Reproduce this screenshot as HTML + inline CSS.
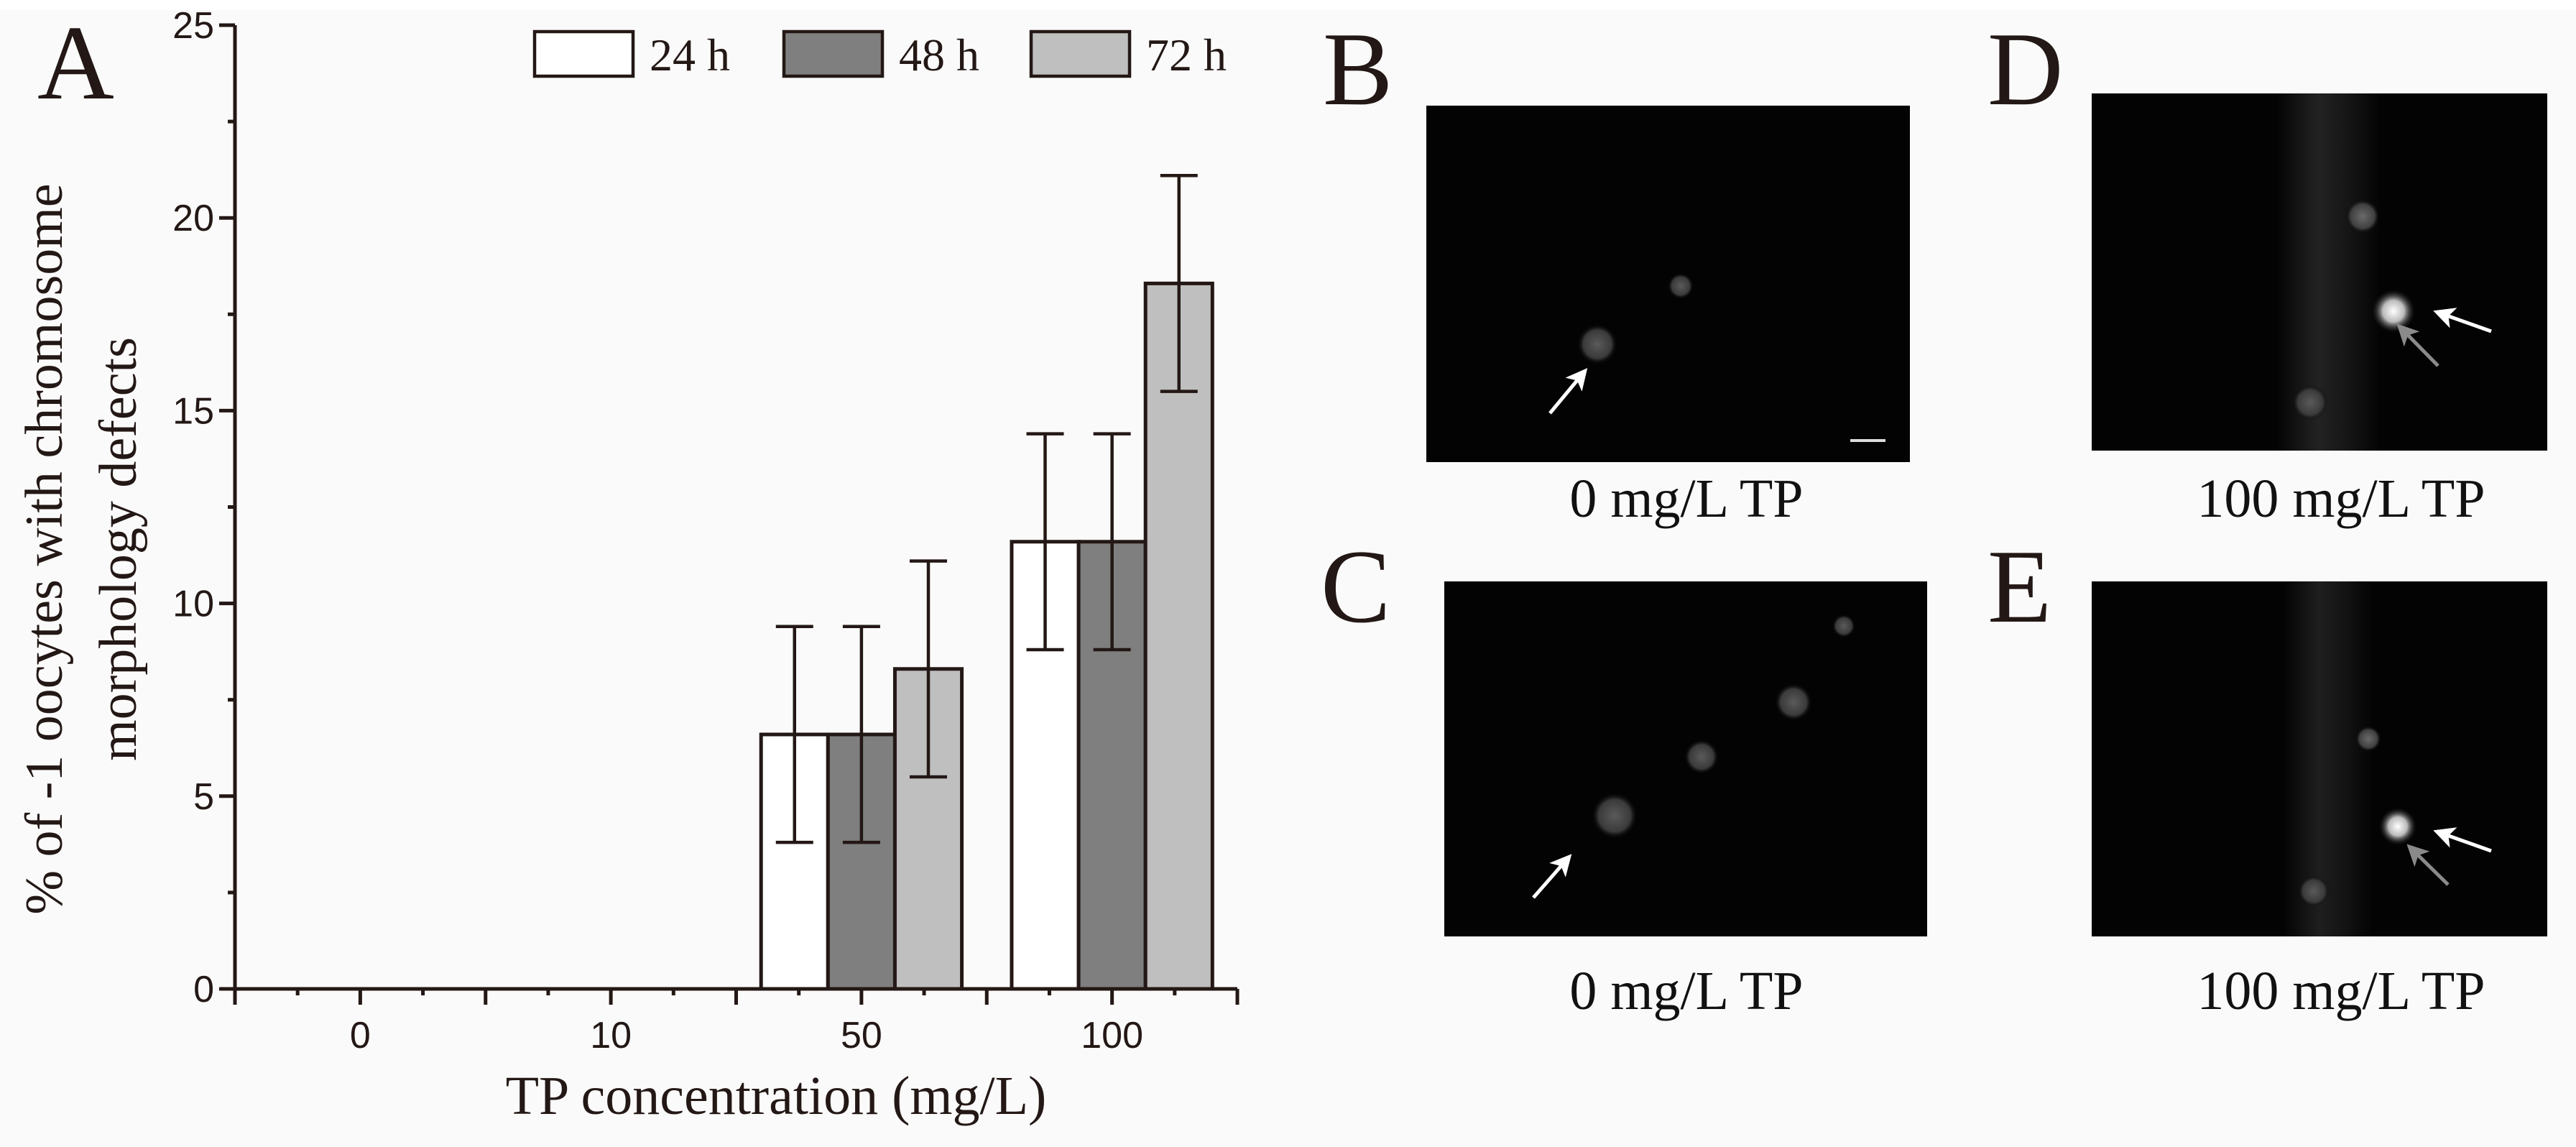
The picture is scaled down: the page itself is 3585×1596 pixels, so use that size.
<!DOCTYPE html>
<html><head><meta charset="utf-8">
<style>
html,body{margin:0;padding:0;background:#fafafa;}
#root{position:relative;width:3585px;height:1596px;background:#fafafa;overflow:hidden;}
svg{position:absolute;left:0;top:0;}
</style></head>
<body>
<div id="root">
<svg id="fig" width="3585" height="1596" viewBox="0 0 3585 1596">
<defs>
<radialGradient id="blobDim"><stop offset="0" stop-color="#5a5a5a"/><stop offset="0.7" stop-color="#3a3a3a"/><stop offset="1" stop-color="#050505" stop-opacity="0"/></radialGradient>
<radialGradient id="blobMid"><stop offset="0" stop-color="#6a6a6a"/><stop offset="0.7" stop-color="#404040"/><stop offset="1" stop-color="#050505" stop-opacity="0"/></radialGradient>
<radialGradient id="blobBright"><stop offset="0" stop-color="#ffffff"/><stop offset="0.5" stop-color="#bbbbbb"/><stop offset="1" stop-color="#222" stop-opacity="0"/></radialGradient>
<linearGradient id="streak" x1="0" x2="1"><stop offset="0" stop-color="#050505"/><stop offset="0.4" stop-color="#2a2a2a"/><stop offset="0.7" stop-color="#1a1a1a"/><stop offset="1" stop-color="#050505"/></linearGradient>
<marker id="ahW" markerWidth="6" markerHeight="6" refX="5" refY="3" orient="auto" markerUnits="strokeWidth"><path d="M0,0 L6,3 L0,6 L1.5,3 z" fill="#fff"/></marker>
<marker id="ahG" markerWidth="6" markerHeight="6" refX="5" refY="3" orient="auto" markerUnits="strokeWidth"><path d="M0,0 L6,3 L0,6 L1.5,3 z" fill="#8a8a8a"/></marker>
</defs>
<rect x="0" y="0" width="3585" height="14" fill="#ffffff"/>
<g id="chart"></g>
<g id="panels">
  <text x="1841" y="145" font-family="Liberation Serif, serif" font-size="146" fill="#231815">B</text>
  <text x="2766" y="145" font-family="Liberation Serif, serif" font-size="146" fill="#231815">D</text>
  <text x="1838" y="865" font-family="Liberation Serif, serif" font-size="146" fill="#231815">C</text>
  <text x="2766" y="865" font-family="Liberation Serif, serif" font-size="146" fill="#231815">E</text>

  <g>
    <rect x="1985" y="147" width="673" height="496" fill="#030303"/>
    <circle cx="2223" cy="479" r="28" fill="url(#blobDim)"/>
    <circle cx="2339" cy="398" r="18" fill="url(#blobDim)"/>
    <line x1="2157" y1="575" x2="2206" y2="516" stroke="#fff" stroke-width="5" marker-end="url(#ahW)"/>
    <rect x="2575" y="611" width="49" height="4" fill="#ddd"/>
  </g>
  <g>
    <rect x="2911" y="130" width="634" height="497" fill="#030303"/>
    <rect x="3170" y="130" width="140" height="497" fill="url(#streak)" opacity="0.8"/>
    <circle cx="3288" cy="301" r="24" fill="url(#blobMid)"/>
    <circle cx="3331" cy="433" r="30" fill="url(#blobBright)"/>
    <circle cx="3215" cy="560" r="25" fill="url(#blobDim)"/>
    <line x1="3467" y1="461" x2="3391" y2="434" stroke="#fff" stroke-width="5" marker-end="url(#ahW)"/>
    <line x1="3393" y1="509" x2="3339" y2="454" stroke="#8a8a8a" stroke-width="5" marker-end="url(#ahG)"/>
  </g>
  <g>
    <rect x="2010" y="809" width="672" height="494" fill="#030303"/>
    <circle cx="2247" cy="1135" r="32" fill="url(#blobDim)"/>
    <circle cx="2368" cy="1053" r="24" fill="url(#blobDim)"/>
    <circle cx="2496" cy="977" r="26" fill="url(#blobDim)"/>
    <circle cx="2566" cy="871" r="16" fill="url(#blobDim)"/>
    <line x1="2134" y1="1249" x2="2184" y2="1192" stroke="#fff" stroke-width="5" marker-end="url(#ahW)"/>
  </g>
  <g>
    <rect x="2911" y="809" width="634" height="494" fill="#030303"/>
    <rect x="3180" y="809" width="120" height="494" fill="url(#streak)" opacity="0.7"/>
    <circle cx="3296" cy="1028" r="18" fill="url(#blobMid)"/>
    <circle cx="3337" cy="1150" r="26" fill="url(#blobBright)"/>
    <circle cx="3220" cy="1240" r="22" fill="url(#blobDim)"/>
    <line x1="3467" y1="1184" x2="3391" y2="1157" stroke="#fff" stroke-width="5" marker-end="url(#ahW)"/>
    <line x1="3407" y1="1231" x2="3353" y2="1178" stroke="#8a8a8a" stroke-width="5" marker-end="url(#ahG)"/>
  </g>
  <text x="2347" y="719" text-anchor="middle" font-family="Liberation Serif, serif" font-size="76" fill="#111">0 mg/L TP</text>
  <text x="3258" y="719" text-anchor="middle" font-family="Liberation Serif, serif" font-size="76" fill="#111">100 mg/L TP</text>
  <text x="2347" y="1404" text-anchor="middle" font-family="Liberation Serif, serif" font-size="76" fill="#111">0 mg/L TP</text>
  <text x="3258" y="1404" text-anchor="middle" font-family="Liberation Serif, serif" font-size="76" fill="#111">100 mg/L TP</text>
</g>
</svg>
</div>
<script>
const categories = ["0", "10", "50", "100"];
const seriesNames = ["24 h", "48 h", "72 h"];
const values24 = [0, 0, 6.6, 11.6];
const values48 = [0, 0, 6.6, 11.6];
const values72 = [0, 0, 8.3, 18.3];
const errors24 = [0, 0, 2.8, 2.8];
const errors48 = [0, 0, 2.8, 2.8];
const errors72 = [0, 0, 2.8, 2.8];
const yTickLabels = ["0", "5", "10", "15", "20", "25"];

const NS = "http://www.w3.org/2000/svg";
const INK = "#231815";
const fills = ["#ffffff", "#7f7f7f", "#bfbfbf"];
const allValues = [values24, values48, values72];
const allErrors = [errors24, errors48, errors72];
const X0 = 327, X1 = 1722, Y0 = 1376, Y1 = 35, YMAX = 25;
const catW = (X1 - X0) / categories.length;
function xScale(c) { return X0 + (c + 0.5) * catW; }
function yScale(v) { return Y0 - v / YMAX * (Y0 - Y1); }
const barW = catW * 0.267;
const g = document.getElementById("chart");
function mk(tag, attrs, parent) {
  const e = document.createElementNS(NS, tag);
  for (const k in attrs) e.setAttribute(k, attrs[k]);
  (parent || g).appendChild(e);
  return e;
}
let t = mk("text", {x: 52, y: 137, "font-family": "Liberation Serif, serif", "font-size": 148, fill: INK});
t.textContent = "A";



for (let s = 0; s < 3; s++) {
  for (let c = 0; c < categories.length; c++) {
    const v = allValues[s][c];
    if (v <= 0) continue;
    const cx = xScale(c) + (s - 1) * barW;
    const r = mk("rect", {x: cx - barW / 2, y: yScale(v), width: barW, height: Y0 - yScale(v), fill: fills[s], stroke: INK, "stroke-width": 5});
    
    
  }
}
for (let s = 0; s < 3; s++) {
  for (let c = 0; c < categories.length; c++) {
    const v = allValues[s][c], e = allErrors[s][c];
    if (v <= 0) continue;
    const cx = xScale(c) + (s - 1) * barW;
    const eg = mk("g", {stroke: INK, "stroke-width": 4.5});
    
    
    mk("line", {x1: cx, x2: cx, y1: yScale(v + e), y2: yScale(v - e)}, eg);
    mk("line", {x1: cx - 26, x2: cx + 26, y1: yScale(v + e), y2: yScale(v + e)}, eg);
    mk("line", {x1: cx - 26, x2: cx + 26, y1: yScale(v - e), y2: yScale(v - e)}, eg);
  }
}
const ax = mk("g", {stroke: INK, "stroke-width": 5});


mk("line", {x1: X0, x2: X0, y1: Y1, y2: Y0 + 2}, ax);
mk("line", {x1: X0 - 2, x2: X1, y1: Y0, y2: Y0}, ax);
for (let i = 0; i < yTickLabels.length; i++) {
  const v = Number(yTickLabels[i]);
  mk("line", {x1: X0 - 22, x2: X0, y1: yScale(v), y2: yScale(v)}, ax);
  if (i < yTickLabels.length - 1) mk("line", {x1: X0 - 10, x2: X0, y1: yScale(v + 2.5), y2: yScale(v + 2.5)}, ax);
  const lt = mk("text", {x: 298, y: yScale(v) + 18, "text-anchor": "end", "font-family": "Liberation Sans, sans-serif", "font-size": 52, fill: INK});
  lt.textContent = yTickLabels[i];
  
  
}
for (let k = 0; k <= categories.length * 4; k++) {
  const x = X0 + k * catW / 4;
  const major = k % 2 === 0;
  mk("line", {x1: x, x2: x, y1: Y0, y2: Y0 + (major ? 22 : 9)}, ax);
}
for (let c = 0; c < categories.length; c++) {
  const lt = mk("text", {x: xScale(c), y: 1458, "text-anchor": "middle", "font-family": "Liberation Sans, sans-serif", "font-size": 52, fill: INK});
  lt.textContent = categories[c];
  
  
}
t = mk("text", {x: 1080, y: 1550, "text-anchor": "middle", "font-family": "Liberation Serif, serif", "font-size": 76, fill: INK});
t.textContent = "TP concentration (mg/L)";


const yt = mk("g", {transform: "translate(0,764) rotate(-90)"});


t = mk("text", {x: 0, y: 86, "text-anchor": "middle", "font-family": "Liberation Serif, serif", "font-size": 74, fill: INK}, yt);
t.textContent = "% of -1 oocytes with chromosome";


t = mk("text", {x: 0, y: 189, "text-anchor": "middle", "font-family": "Liberation Serif, serif", "font-size": 74, fill: INK}, yt);
t.textContent = "morphology defects";


const legX = [744, 1091, 1435];
for (let s = 0; s < 3; s++) {
  const lg = mk("g", {});
  
  
  mk("rect", {x: legX[s], y: 44, width: 137, height: 62, fill: fills[s], stroke: INK, "stroke-width": 4.5}, lg);
  const lt = mk("text", {x: legX[s] + 160, y: 98, "font-family": "Liberation Serif, serif", "font-size": 64, fill: INK}, lg);
  lt.textContent = seriesNames[s];
}
</script>
</body></html>
